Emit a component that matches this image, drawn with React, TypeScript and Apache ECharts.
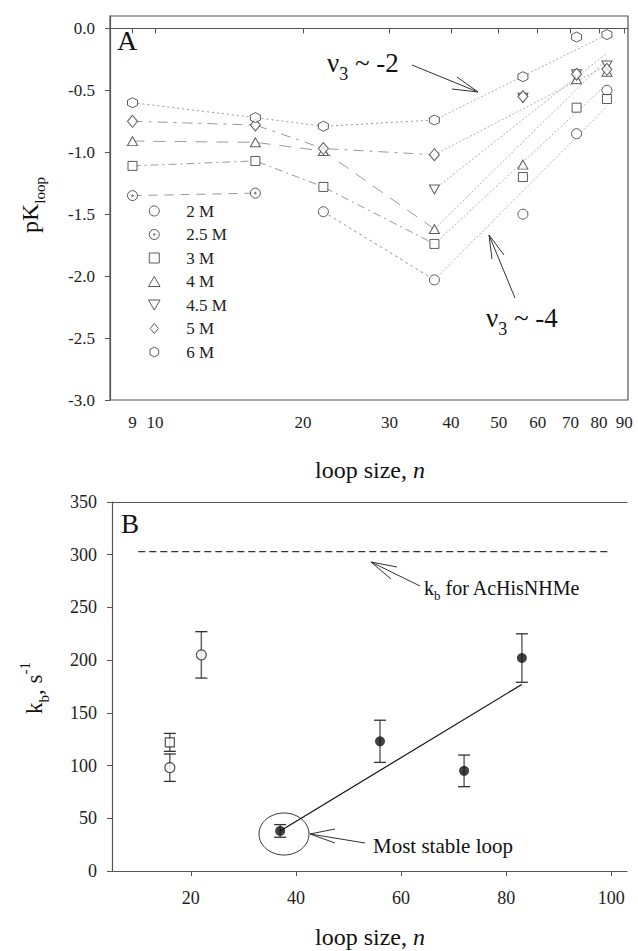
import React, { useEffect, useRef } from 'react';
import * as echarts from 'echarts';

const FONT = '"Liberation Serif", "Times New Roman", Times, serif';

// ---------- Panel A data ----------
const loopSizesA = [9, 16, 22, 37, 56, 72, 83];
const concLabels = ['2 M', '2.5 M', '3 M', '4 M', '4.5 M', '5 M', '6 M'];
const pK2M = [null, null, -1.48, -2.03, -1.5, -0.85, -0.5];
const pK25M = [-1.35, -1.33, null, null, null, null, null];
const pK3M = [-1.11, -1.07, -1.28, -1.74, -1.2, -0.64, -0.57];
const pK4M = [-0.91, -0.92, -0.99, -1.62, -1.1, -0.41, -0.35];
const pK45M = [null, null, null, -1.3, -0.56, -0.37, -0.3];
const pK5M = [-0.75, -0.78, -0.97, -1.02, -0.55, -0.37, -0.33];
const pK6M = [-0.6, -0.72, -0.79, -0.74, -0.39, -0.07, -0.05];
// straight fit lines drawn from n = 37 to n = 83
const fitN = [37, 83];
const fit2M = [-2.03, -0.63];
const fit3M = [-1.74, -0.45];
const fit4M = [-1.62, -0.25];
const fit45M = [-1.3, -0.2];
const fit5M = [-1.02, -0.3];
const fit6M = [-0.74, -0.05];
const xTicksA = [9, 10, 20, 30, 40, 50, 60, 70, 80, 90];
const yTicksA = [-3, -2.5, -2, -1.5, -1, -0.5, 0];

// ---------- Panel B data ----------
const nSquareB = [16];
const kbSquare = [122];
const errSquare = [8.5];
const nOpenB = [16, 22];
const kbOpen = [98, 205];
const errOpen = [13, 22];
const nFilledB = [37, 56, 72, 83];
const kbFilled = [38, 123, 95, 202];
const errFilled = [6, 20, 15, 23];
const nFitB = [37, 83];
const kbFitB = [38, 177];
const nRefB = [10, 100];
const kbRefB = [303, 303];
const xTicksB = [20, 40, 60, 80, 100];

const HEX = 'path://M0,-10L8.66,-5L8.66,5L0,10L-8.66,5L-8.66,-5Z';
const DOTCIRCLE = 'path://M0,-10A10,10,0,1,1,0,10A10,10,0,1,1,0,-10ZM0,-1.6A1.6,1.6,0,1,1,0,1.6A1.6,1.6,0,1,1,0,-1.6Z';
const TRIDOWN = 'path://M-5,-4.33L5,-4.33L0,4.33Z';
const TRIUP = 'path://M0,-4.33L5,4.33L-5,4.33Z';
const SQUARE = 'path://M-5,-5L5,-5L5,5L-5,5Z';
const DIAMOND = 'path://M0,-6L5,0L0,6L-5,0Z';

const seriesStyle = [
  { values: pK2M, fit: fit2M, symbol: 'circle', size: 10, dash: [3, 3] },
  { values: pK25M, fit: null, symbol: DOTCIRCLE, size: 10, dash: [9, 7] },
  { values: pK3M, fit: fit3M, symbol: SQUARE, size: 9, dash: [8, 4, 2, 4] },
  { values: pK4M, fit: fit4M, symbol: TRIUP, size: [10, 9], dash: [12, 9] },
  { values: pK45M, fit: fit45M, symbol: TRIDOWN, size: [10, 9], dash: [3, 3] },
  { values: pK5M, fit: fit5M, symbol: DIAMOND, size: [10, 12], dash: [10, 6, 3, 6] },
  { values: pK6M, fit: fit6M, symbol: HEX, size: 10, dash: [2, 3] },
];

function arrow(x1: number, y1: number, x2: number, y2: number, h1: number[], h2: number[]) {
  const st = { stroke: '#333', lineWidth: 1, fill: null };
  return [
    { type: 'line', shape: { x1, y1, x2, y2 }, style: st },
    { type: 'polyline', shape: { points: [h1, [x2, y2], h2] }, style: st },
  ];
}

export default function App() {
  const ref = useRef<HTMLDivElement>(null);
  useEffect(() => {
    document.body.style.margin = '0';
    const chart = echarts.init(ref.current!, undefined, { renderer: 'svg' });

    const seriesA: any[] = [];
    seriesStyle.forEach((s, i) => {
      const pts = loopSizesA
        .map((n, j) => (s.values[j] == null ? null : [n, s.values[j]]))
        .filter((p) => p !== null);
      const leftPts = pts.filter((p: any) => p[0] <= 37);
      if (leftPts.length > 1) {
        seriesA.push({
          type: 'line', name: 'lineL' + i, xAxisIndex: 0, yAxisIndex: 0, data: leftPts,
          symbol: 'none', z: 2, silent: true,
          lineStyle: { color: '#9a9a9a', width: 1, type: s.dash },
        });
      }
      if (s.fit) {
        seriesA.push({
          type: 'line', name: 'fit' + i, xAxisIndex: 0, yAxisIndex: 0,
          data: fitN.map((n, k) => [n, s.fit![k]]),
          symbol: 'none', z: 2, silent: true,
          lineStyle: { color: '#b0b0b0', width: 1, type: [2, 2] },
        });
      }
      seriesA.push({
        type: 'scatter', name: concLabels[i], xAxisIndex: 0, yAxisIndex: 0, data: pts,
        symbol: s.symbol, symbolSize: s.size, z: 3,
        itemStyle: { color: '#fff', borderColor: '#333', borderWidth: 1 },
      });
    });

    const errData = [
      ...nSquareB.map((n, i) => [n, kbSquare[i], errSquare[i]]),
      ...nOpenB.map((n, i) => [n, kbOpen[i], errOpen[i]]),
      ...nFilledB.map((n, i) => [n, kbFilled[i], errFilled[i]]),
    ];

    const seriesB: any[] = [
      {
        type: 'line', xAxisIndex: 1, yAxisIndex: 1, data: nRefB.map((n, i) => [n, kbRefB[i]]),
        symbol: 'none', lineStyle: { color: '#333', width: 1.2, type: [7, 4] }, z: 2,
      },
      {
        type: 'line', xAxisIndex: 1, yAxisIndex: 1, data: nFitB.map((n, i) => [n, kbFitB[i]]),
        symbol: 'none', lineStyle: { color: '#111', width: 1.2 }, z: 2,
      },
      {
        type: 'custom', xAxisIndex: 1, yAxisIndex: 1, data: errData, z: 2,
        renderItem: (params: any, api: any) => {
          const x = api.value(0), y = api.value(1), e = api.value(2);
          const t = api.coord([x, y + e]);
          const b = api.coord([x, y - e]);
          const hw = 6;
          return {
            type: 'group',
            children: [
              { type: 'line', shape: { x1: t[0], y1: t[1], x2: b[0], y2: b[1] }, style: { stroke: '#666', lineWidth: 1.5 } },
              { type: 'line', shape: { x1: t[0] - hw, y1: t[1], x2: t[0] + hw, y2: t[1] }, style: { stroke: '#333', lineWidth: 1.3 } },
              { type: 'line', shape: { x1: b[0] - hw, y1: b[1], x2: b[0] + hw, y2: b[1] }, style: { stroke: '#333', lineWidth: 1.3 } },
            ],
          };
        },
      },
      {
        type: 'scatter', xAxisIndex: 1, yAxisIndex: 1, data: nSquareB.map((n, i) => [n, kbSquare[i]]),
        symbol: 'rect', symbolSize: 9, z: 3,
        itemStyle: { color: '#fff', borderColor: '#222', borderWidth: 1.2 },
      },
      {
        type: 'scatter', xAxisIndex: 1, yAxisIndex: 1, data: nOpenB.map((n, i) => [n, kbOpen[i]]),
        symbol: 'circle', symbolSize: 10, z: 3,
        itemStyle: { color: '#fff', borderColor: '#222', borderWidth: 1.2 },
      },
      {
        type: 'scatter', xAxisIndex: 1, yAxisIndex: 1, data: nFilledB.map((n, i) => [n, kbFilled[i]]),
        symbol: 'circle', symbolSize: 10, z: 3,
        itemStyle: { color: '#111', borderColor: '#111', borderWidth: 0 },
      },
    ];

    const labelStyle = { fontFamily: FONT, fontSize: 17, color: '#222' };
    const axisLine = { show: true, lineStyle: { color: '#555', width: 1.2 } };

    const nuRich = {
      v: { fontFamily: FONT, fontSize: 27, lineHeight: 40, fill: '#111' },
      s: { fontFamily: FONT, fontSize: 18, lineHeight: 18, verticalAlign: 'bottom', fill: '#111' },
      t: { fontFamily: FONT, fontSize: 27, lineHeight: 40, fill: '#111' },
    };

    const graphics: any[] = [
      { type: 'text', x: 117, y: 40, style: { text: 'A', font: `28px ${FONT}`, fill: '#111', verticalAlign: 'middle' } },
      { type: 'text', x: 327, y: 63, style: { text: '{v|ν}{s|3}{t| ~ -2}', verticalAlign: 'middle', fill: '#111', rich: nuRich } },
      ...arrow(412, 65, 478, 92, [457, 77], [452, 89]),
      { type: 'text', x: 486, y: 318, style: { text: '{v|ν}{s|3}{t| ~ -4}', verticalAlign: 'middle', fill: '#111', rich: nuRich } },
      ...arrow(515, 298, 489, 235, [492, 259], [504, 255]),
      {
        type: 'text', x: 30, y: 205, rotation: Math.PI / 2,
        style: {
          text: '{m|pK}{s|loop}', align: 'center', verticalAlign: 'middle', fill: '#111',
          rich: {
            m: { fontFamily: FONT, fontSize: 24, lineHeight: 34, fill: '#111' },
            s: { fontFamily: FONT, fontSize: 15, lineHeight: 15, verticalAlign: 'bottom', fill: '#111' },
          },
        },
      },
      {
        type: 'text', x: 370, y: 470,
        style: {
          text: '{m|loop size, }{i|n}', align: 'center', verticalAlign: 'middle', fill: '#111',
          rich: {
            m: { fontFamily: FONT, fontSize: 24, fill: '#111' },
            i: { fontFamily: FONT, fontSize: 24, fontStyle: 'italic', fill: '#111' },
          },
        },
      },
      { type: 'text', x: 121, y: 524, style: { text: 'B', font: `27px ${FONT}`, fill: '#111', verticalAlign: 'middle' } },
      {
        type: 'text', x: 424, y: 588,
        style: {
          text: '{m|k}{s|b}{m| for AcHisNHMe}', verticalAlign: 'middle', fill: '#111',
          rich: {
            m: { fontFamily: FONT, fontSize: 20, lineHeight: 28, fill: '#111' },
            s: { fontFamily: FONT, fontSize: 13, lineHeight: 13, verticalAlign: 'bottom', fill: '#111' },
          },
        },
      },
      ...arrow(420, 586, 371, 562, [397, 567], [391, 579]),
      {
        type: 'ellipse', shape: { cx: 284, cy: 834, rx: 25, ry: 21 },
        style: { stroke: '#333', lineWidth: 1, fill: null },
      },
      ...arrow(365, 843, 310, 834, [335, 829], [335, 843]),
      {
        type: 'text', x: 373, y: 846,
        style: { text: 'Most stable loop', font: `21px ${FONT}`, fill: '#111', verticalAlign: 'middle' },
      },
      {
        type: 'text', x: 34, y: 688, rotation: Math.PI / 2,
        style: {
          text: '{m|k}{s|b}{m|, s}{p|-1}', align: 'center', verticalAlign: 'middle', fill: '#111',
          rich: {
            m: { fontFamily: FONT, fontSize: 23, lineHeight: 34, fill: '#111' },
            s: { fontFamily: FONT, fontSize: 15, lineHeight: 15, verticalAlign: 'bottom', fill: '#111' },
            p: { fontFamily: FONT, fontSize: 15, lineHeight: 15, verticalAlign: 'top', fill: '#111' },
          },
        },
      },
      {
        type: 'text', x: 370, y: 937,
        style: {
          text: '{m|loop size, }{i|n}', align: 'center', verticalAlign: 'middle', fill: '#111',
          rich: {
            m: { fontFamily: FONT, fontSize: 24, fill: '#111' },
            i: { fontFamily: FONT, fontSize: 24, fontStyle: 'italic', fill: '#111' },
          },
        },
      },
    ];

    chart.setOption({
      animation: false,
      backgroundColor: '#fff',
      textStyle: { fontFamily: FONT },
      grid: [
        { left: 110, top: 16, width: 518, height: 384, show: true, borderColor: '#555', borderWidth: 1.2, backgroundColor: 'transparent' },
        { left: 112, top: 502, width: 515, height: 369 },
      ],
      legend: {
        show: true, orient: 'vertical', left: 143, top: 197.5,
        itemWidth: 54, itemHeight: 10, itemGap: 6.5, selectedMode: false, symbolKeepAspect: true,
        itemStyle: { borderWidth: 1 },
        textStyle: { fontFamily: FONT, fontSize: 17, color: '#222', lineHeight: 17 },
        data: concLabels,
      },
      xAxis: [
        {
          type: 'log', gridIndex: 0, min: 8.1, max: 91.6, logBase: 10,
          axisLine,
          axisTick: { show: true, length: 5, customValues: xTicksA, lineStyle: { color: '#555' } },
          axisLabel: { ...labelStyle, margin: 14, customValues: xTicksA },
          splitLine: { show: false }, minorTick: { show: false },
        },
        {
          type: 'value', gridIndex: 1, min: 5, max: 103,
          axisLine,
          axisTick: { show: true, length: 5, customValues: xTicksB, lineStyle: { color: '#555' } },
          axisLabel: { ...labelStyle, fontSize: 18, margin: 18, customValues: xTicksB },
          splitLine: { show: false },
        },
        {
          type: 'value', gridIndex: 1, min: 5, max: 103, position: 'top',
          axisLine, axisTick: { show: false }, axisLabel: { show: false }, splitLine: { show: false },
        },
      ],
      yAxis: [
        {
          type: 'value', gridIndex: 0, min: -3, max: 0.1,
          axisLine,
          axisTick: { show: true, length: 5, customValues: yTicksA, lineStyle: { color: '#555' } },
          axisLabel: { ...labelStyle, margin: 15, customValues: yTicksA, formatter: (v: number) => v.toFixed(1) },
          splitLine: { show: false },
        },
        {
          type: 'value', gridIndex: 1, min: 0, max: 350, interval: 50,
          axisLine,
          axisTick: { show: true, length: 5, lineStyle: { color: '#555' } },
          axisLabel: { ...labelStyle, fontSize: 18, margin: 15 },
          splitLine: { show: false },
        },
      ],
      series: [...seriesA, ...seriesB],
      graphic: { elements: graphics },
    });
    return () => chart.dispose();
  }, []);
  return <div ref={ref} style={{ width: 638, height: 951 }} />;
}
